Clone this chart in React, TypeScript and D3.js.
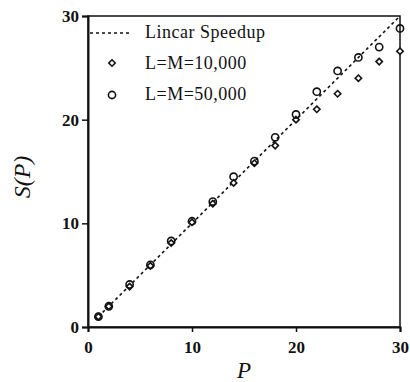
import { useRef, useEffect } from "react";
import * as d3 from "d3";

const W = 410;
const H = 382;
const margin = { top: 16, right: 10, bottom: 55, left: 88 };

const procs = [1, 2, 4, 6, 8, 10, 12, 14, 16, 18, 20, 22, 24, 26, 28, 30];
const speedup10k = [1.0, 2.0, 3.9, 5.9, 8.1, 10.1, 11.9, 13.9, 15.8, 17.5, 20.0, 21.0, 22.5, 24.0, 25.6, 26.6];
const speedup50k = [1.0, 2.0, 4.1, 6.0, 8.3, 10.2, 12.1, 14.5, 16.0, 18.3, 20.5, 22.7, 24.7, 26.0, 27.0, 28.8];
const linearLine = [1, 30];
const ticks = [0, 10, 20, 30];
const legendLabels = ["Lincar Speedup", "L=M=10,000", "L=M=50,000"];

export default function App() {
  const svgRef = useRef<SVGSVGElement>(null);

  useEffect(() => {
    const svg = d3.select(svgRef.current);
    svg.selectAll("*").remove();
    const iw = W - margin.left - margin.right;
    const ih = H - margin.top - margin.bottom;

    const x = d3.scaleLinear().domain([0, 30]).range([0, iw]);
    const y = d3.scaleLinear().domain([0, 30]).range([ih, 0]);

    const g = svg.append("g").attr("transform", `translate(${margin.left},${margin.top})`);
    const font = "'Liberation Serif', 'Times New Roman', serif";

    // frame
    g.append("rect")
      .attr("width", iw).attr("height", ih)
      .attr("fill", "none").attr("stroke", "#111").attr("stroke-width", 1.5);

    const xAxis = g.append("g").attr("transform", `translate(0,${ih})`)
      .call(d3.axisBottom(x).tickValues(ticks).tickSize(5).tickFormat(d3.format("d")));
    const yAxis = g.append("g")
      .call(d3.axisLeft(y).tickValues(ticks).tickSize(6).tickFormat(d3.format("d")));
    [xAxis, yAxis].forEach(a => {
      a.select(".domain").attr("stroke", "#111").attr("stroke-width", 2);
      a.selectAll(".tick line").attr("stroke", "#111").attr("stroke-width", 1.5);
      a.selectAll(".tick text")
        .attr("fill", "#111").style("font-family", font)
        .style("font-size", "17px").style("font-weight", "bold");
    });
    xAxis.selectAll(".tick text").attr("dy", "1.05em");
    yAxis.selectAll(".tick text").attr("x", -9);

    // linear speedup
    g.append("path")
      .attr("d", d3.line<number>().x(d => x(d)).y(d => y(d))(linearLine))
      .attr("fill", "none").attr("stroke", "#111")
      .attr("stroke-width", 1.6).attr("stroke-dasharray", "3,3");

    const pts10 = procs.map((p, i) => ({ p, v: speedup10k[i] }));
    const pts50 = procs.map((p, i) => ({ p, v: speedup50k[i] }));

    const diamond = d3.symbol().type(d3.symbolDiamond2).size(26);

    g.selectAll(".d10").data(pts10).join("path")
      .attr("class", "d10")
      .attr("d", diamond()!)
      .attr("transform", d => `translate(${x(d.p)},${y(d.v)})`)
      .attr("fill", "white").attr("stroke", "#111").attr("stroke-width", 1.6);

    g.selectAll(".c50").data(pts50).join("circle")
      .attr("class", "c50")
      .attr("cx", d => x(d.p)).attr("cy", d => y(d.v)).attr("r", 3.6)
      .attr("fill", "none").attr("stroke", "#111").attr("stroke-width", 1.6);

    // legend
    const lg = g.append("g");
    lg.append("line")
      .attr("x1", 2).attr("x2", 44).attr("y1", 17).attr("y2", 17)
      .attr("stroke", "#111").attr("stroke-width", 1.6).attr("stroke-dasharray", "3,3");
    lg.append("path").attr("d", diamond()!)
      .attr("transform", "translate(24,47)")
      .attr("fill", "white").attr("stroke", "#111").attr("stroke-width", 1.6);
    lg.append("circle").attr("cx", 24).attr("cy", 79).attr("r", 3.6)
      .attr("fill", "none").attr("stroke", "#111").attr("stroke-width", 1.6);
    lg.selectAll("text").data(legendLabels).join("text")
      .attr("x", 57).attr("y", (_, i) => 22 + i * 31)
      .attr("fill", "#111").style("font-family", font).style("font-size", "18px")
      .style("letter-spacing", "0.5px")
      .text(d => d);

    // axis labels
    svg.append("text")
      .attr("transform", `translate(30,177) rotate(-90)`)
      .attr("text-anchor", "middle")
      .style("font-family", font).style("font-size", "24px").style("font-style", "italic")
      .attr("fill", "#111")
      .text("S(P)");
    svg.append("text")
      .attr("x", margin.left + iw / 2).attr("y", H - 4)
      .attr("text-anchor", "middle")
      .style("font-family", font).style("font-size", "23px").style("font-style", "italic")
      .attr("fill", "#111")
      .text("P");
  }, []);

  return (
    <svg ref={svgRef} width={W} height={H}
      style={{ position: "absolute", left: 0, top: 0, background: "white" }} />
  );
}
